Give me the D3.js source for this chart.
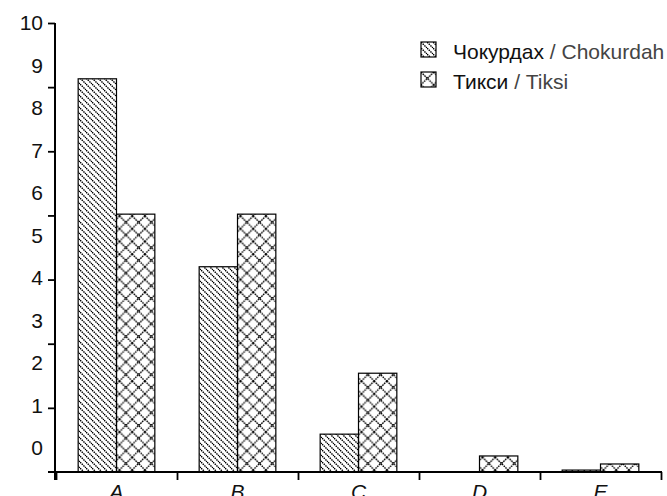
<!DOCTYPE html>
<html>
<head>
<meta charset="utf-8">
<script src="https://cdn.jsdelivr.net/npm/d3@7"></script>
<style>
  html, body { margin: 0; padding: 0; background: #fff; overflow: hidden; }
  svg { display: block; font-family: "Liberation Sans", Arial, sans-serif; }
</style>
</head>
<body>
<svg id="chart" width="667" height="496"></svg>
<script>
// Categories along the x axis
const categories = ["A", "B", "C", "D", "E"];
// Station names (Russian / Latin)
const seriesNames = ["Чокурдах", "Тикси"];
const seriesLatin = ["Chokurdah", "Tiksi"];
// Bar values, one per category
const chokurdah = [6.13, 3.20, 0.59, 0, 0.03];
const tiksi = [4.02, 4.02, 1.54, 0.25, 0.125];
// Labels printed beside the vertical axis
const yTickLabels = ["0", "1", "2", "3", "4", "5", "6", "7", "8", "9", "10"];
// Tick marks on the vertical axis
const yTickValues = [1, 2, 3, 4, 5, 6, 7];

const svg = d3.select("#chart");
const plot = { left: 56, right: 661, top: 23, bottom: 472 };

const series = [
  { key: "chok", name: seriesNames[0], latin: seriesLatin[0], values: chokurdah, pattern: "hatch" },
  { key: "tiksi", name: seriesNames[1], latin: seriesLatin[1], values: tiksi, pattern: "cross" }
];

// Fill patterns: dotted diagonal hatch and dotted diamond lattice
const defs = svg.append("defs");
const hatch = defs.append("pattern")
  .attr("id", "hatch").attr("patternUnits", "userSpaceOnUse")
  .attr("width", 6).attr("height", 6);
hatch.append("path")
  .attr("d", "M0,0L6,6M-3,3L3,9M3,-3L9,3")
  .attr("stroke", "#000").attr("stroke-width", 1.4)
  .attr("stroke-dasharray", "1.6,0.8");

const cross = defs.append("pattern")
  .attr("id", "cross").attr("patternUnits", "userSpaceOnUse")
  .attr("width", 12.7).attr("height", 12.7);
cross.append("path")
  .attr("d", "M0,0L12.7,12.7M12.7,0L0,12.7")
  .attr("stroke", "#000").attr("stroke-width", 1.4)
  .attr("stroke-dasharray", "1.6,0.8");

// Scales
const x = d3.scaleBand().domain(categories).range([plot.left, plot.right]).padding(0);
const xSub = d3.scaleBand().domain(series.map(s => s.key))
  .range([0, x.bandwidth()]).paddingInner(0).paddingOuter(0.578);
const y = d3.scaleLinear().domain([0, 7]).range([plot.bottom, plot.top]);
const yLabel = d3.scalePoint().domain(yTickLabels).range([448, plot.top]);
const xEdge = d3.scaleLinear().domain([0, categories.length]).range([plot.left, plot.right]);

// Bars
const groups = svg.append("g").selectAll("g")
  .data(categories).join("g")
  .attr("transform", d => `translate(${x(d)},0)`);

groups.selectAll("rect")
  .data((c, i) => series.map(s => ({ key: s.key, pattern: s.pattern, value: s.values[i] })).filter(d => d.value > 0))
  .join("rect")
  .attr("x", d => xSub(d.key))
  .attr("width", xSub.bandwidth())
  .attr("y", d => y(d.value))
  .attr("height", d => y(0) - y(d.value))
  .attr("fill", d => `url(#${d.pattern})`)
  .attr("stroke", "#000")
  .attr("stroke-width", 1.2);

// Vertical axis: tick marks only
const yAxis = svg.append("g")
  .attr("transform", `translate(${plot.left - 1},0)`)
  .call(d3.axisLeft(y).tickValues(yTickValues).tickSize(7).tickSizeOuter(0).tickFormat(""));
yAxis.select(".domain")
  .attr("d", `M0,${y(7)}V${plot.bottom + 8}`)
  .attr("stroke-width", 2);
yAxis.selectAll(".tick line").attr("stroke-width", 1.8);

// Vertical axis labels
const yLab = svg.append("g")
  .attr("transform", `translate(43,0)`)
  .call(d3.axisLeft(yLabel).tickSize(0).tickPadding(0));
yLab.select(".domain").remove();
yLab.selectAll("text")
  .attr("font-size", 21)
  .attr("font-family", "'Liberation Sans', Arial, sans-serif")
  .attr("fill", "#111");

// Horizontal axis with boundary ticks
const xAxis = svg.append("g")
  .attr("transform", `translate(0,${plot.bottom})`)
  .call(d3.axisBottom(xEdge).tickValues(d3.range(categories.length + 1)).tickSize(8).tickSizeOuter(0).tickFormat(""));
xAxis.select(".domain")
  .attr("d", `M${plot.left - 8},0H${plot.right + 1}`)
  .attr("stroke-width", 2);
xAxis.selectAll(".tick line").attr("stroke-width", 1.8);

// Category labels
svg.append("g").selectAll("text")
  .data(categories).join("text")
  .attr("x", d => x(d) + x.bandwidth() / 2)
  .attr("y", 499)
  .attr("text-anchor", "middle")
  .attr("font-size", 21)
  .attr("font-style", "italic")
  .attr("fill", "#111")
  .text(d => d);

// Legend
const legend = svg.append("g").selectAll("g")
  .data(series).join("g")
  .attr("transform", (d, i) => `translate(421,${42 + i * 30})`);
legend.append("rect")
  .attr("width", 15).attr("height", 15)
  .attr("fill", d => `url(#${d.pattern})`)
  .attr("stroke", "#000").attr("stroke-width", 1.2);
const lt = legend.append("text")
  .attr("x", 32).attr("y", 17)
  .attr("font-size", 21);
lt.append("tspan").attr("fill", "#111").text(d => d.name);
lt.append("tspan").attr("fill", "#444").text(d => " / " + d.latin);
</script>
</body>
</html>
